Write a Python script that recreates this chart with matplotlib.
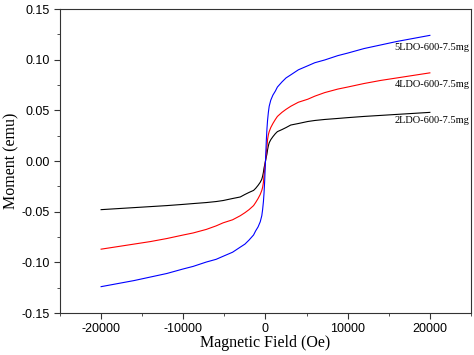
import matplotlib

matplotlib.use("Agg")
import matplotlib.pyplot as plt
from matplotlib.ticker import MultipleLocator

plt.rcParams["axes.unicode_minus"] = False

# hysteresis loops (field in Oe, moment in emu)
field = [-20000, -18000, -16000, -14000, -12000, -10000, -8800, -7200, -6000, -5150,
         -4000, -3070, -2500, -2000, -1450, -1200, -900, -640, -450, -350, -250, -180,
         -100, -50, 0, 50, 100, 180, 250, 350, 450, 640, 900, 1200, 1450, 2000, 2500,
         3070, 4000, 5150, 6000, 7200, 8800, 10000, 12000, 14000, 16000, 18000, 20000]
moment_2ldo = [-0.048, -0.047, -0.046, -0.045, -0.044, -0.0428, -0.042, -0.041, -0.040,
               -0.039, -0.037, -0.0355, -0.033, -0.031, -0.029, -0.027, -0.024, -0.021,
               -0.018, -0.015, -0.011, -0.007, -0.004, -0.002, 0.0, 0.002, 0.004, 0.007,
               0.011, 0.015, 0.018, 0.021, 0.024, 0.027, 0.029, 0.031, 0.033, 0.0355,
               0.037, 0.039, 0.040, 0.041, 0.042, 0.0428, 0.044, 0.045, 0.046, 0.047, 0.048]
moment_4ldo = [-0.087, -0.0845, -0.082, -0.0795, -0.0765, -0.073, -0.071, -0.0675, -0.064,
               -0.061, -0.058, -0.054, -0.051, -0.048, -0.044, -0.041, -0.037, -0.033,
               -0.029, -0.026, -0.021, -0.014, -0.008, -0.004, 0.0, 0.004, 0.008, 0.014,
               0.021, 0.026, 0.029, 0.033, 0.037, 0.041, 0.044, 0.048, 0.051, 0.054,
               0.058, 0.061, 0.064, 0.0675, 0.071, 0.073, 0.0765, 0.0795, 0.082, 0.0845, 0.087]
moment_5ldo = [-0.124, -0.121, -0.118, -0.1145, -0.111, -0.1065, -0.104, -0.0997, -0.097,
               -0.094, -0.090, -0.085, -0.082, -0.078, -0.073, -0.069, -0.065, -0.060,
               -0.054, -0.048, -0.040, -0.032, -0.020, -0.010, 0.0, 0.010, 0.020, 0.032,
               0.040, 0.048, 0.054, 0.060, 0.065, 0.069, 0.073, 0.078, 0.082, 0.085,
               0.090, 0.094, 0.097, 0.0997, 0.104, 0.1065, 0.111, 0.1145, 0.118, 0.121, 0.124]

series = [
    ("2LDO-600-7.5mg", moment_2ldo, "black", 0.0395),
    ("4LDO-600-7.5mg", moment_4ldo, "red", 0.076),
    ("5LDO-600-7.5mg", moment_5ldo, "blue", 0.1125),
]

fig = plt.figure(figsize=(4.74, 3.55), dpi=100)
ax = fig.add_axes([0.1266, 0.1183, 0.867, 0.8563])

for label, m, color, ylab in series:
    ax.plot(field, m, color=color, lw=0.8)
    ax.text(15700, ylab, label, family="Liberation Serif", fontsize=7.5,
            va="center", ha="left")

ax.set_xlim(-25000, 25000)
ax.set_ylim(-0.15, 0.15)
ax.xaxis.set_major_locator(MultipleLocator(10000))
ax.xaxis.set_minor_locator(MultipleLocator(5000))
ax.yaxis.set_minor_locator(MultipleLocator(0.025))
ax.set_yticks([-0.15, -0.10, -0.05, 0.00, 0.05, 0.10, 0.15])
ax.set_yticklabels(["-0.15", "-0.10", "-0.05", "0.00", "0.05", "0.10", "0.15"])
ax.tick_params(which="both", direction="out", top=False, right=False,
               labelsize=9, color="#333333")
ax.tick_params(which="major", length=4)
ax.tick_params(which="minor", length=2)
for lab in ax.get_xticklabels() + ax.get_yticklabels():
    lab.set_family("Liberation Sans")
for sp in ax.spines.values():
    sp.set_color("#333333")

ax.set_xlabel("Magnetic Field (Oe)", family="Liberation Serif", fontsize=11.5, labelpad=0)
ax.set_ylabel("Moment (emu)", family="Liberation Serif", fontsize=11.5, labelpad=1)

fig.savefig("out.png", dpi=100)
